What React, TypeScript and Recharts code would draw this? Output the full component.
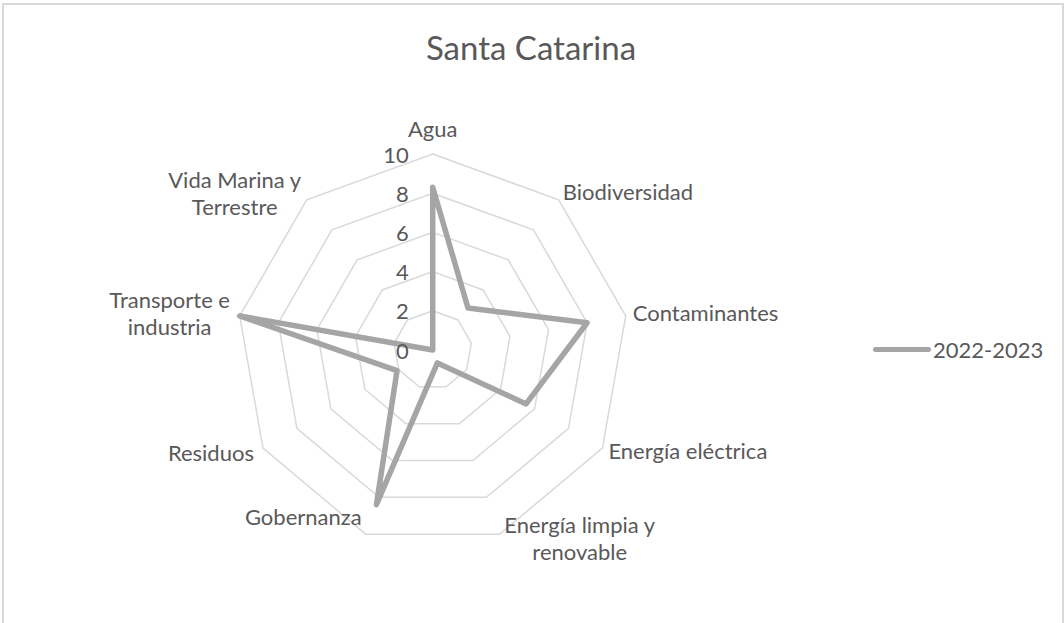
import React from 'react'
import { RadarChart, Radar, PolarGrid, PolarAngleAxis, PolarRadiusAxis, Legend } from 'recharts'

const categories = [
  'Agua',
  'Biodiversidad',
  'Contaminantes',
  'Energía eléctrica',
  'Energía limpia y renovable',
  'Gobernanza',
  'Residuos',
  'Transporte e industria',
  'Vida Marina y Terrestre',
]
const values2022 = [8.3, 2.8, 8, 5.5, 0.7, 8.4, 2.1, 10, 0]
const radiusTicks = [0, 2, 4, 6, 8, 10]
const seriesName = '2022-2023'

const data = categories.map((c, i) => ({ category: c, v: values2022[i] }))

const W = 1064
const H = 623
const CX = 432.7
const CY = 350
const R = 196
const FONT = 'Lato, "Noto Sans", sans-serif'
const TEXT = '#595959'
const LINE = '#A5A5A5'
const GRID = '#D9D9D9'

// colocación de etiquetas estilo Excel (relativa al vértice)
const labelPos: { anchor: 'start' | 'middle' | 'end'; dx: number; dy: number }[] = [
  { anchor: 'middle', dx: 0, dy: -26 },
  { anchor: 'start', dx: 4, dy: -8 },
  { anchor: 'start', dx: 7, dy: -3 },
  { anchor: 'start', dx: 6, dy: 2 },
  { anchor: 'middle', dx: 80, dy: 3.5 },
  { anchor: 'end', dx: -4, dy: -18 },
  { anchor: 'end', dx: -9, dy: 4 },
  { anchor: 'middle', dx: -70, dy: -2.5 },
  { anchor: 'middle', dx: -72, dy: -7 },
]

function wrap(label: string) {
  const w = label.split(' ')
  if (w.length < 3) return [label]
  return [w.slice(0, -1).join(' '), w[w.length - 1]]
}

function AngleTick(props: any) {
  const { payload, index } = props
  const ang = (payload.coordinate * Math.PI) / 180
  const vx = CX + R * Math.cos(ang)
  const vy = CY - R * Math.sin(ang)
  const pos = labelPos[index] || { anchor: 'middle', dx: 0, dy: 0 }
  const lines = wrap(String(payload.value))
  const gap = 27
  const y0 = vy + pos.dy - ((lines.length - 1) * gap) / 2
  return (
    <text textAnchor={pos.anchor} fill={TEXT} fontSize={22} fontFamily={FONT}>
      {lines.map((l, i) => (
        <tspan key={i} x={vx + pos.dx} y={y0 + i * gap} dominantBaseline="central">
          {l}
        </tspan>
      ))}
    </text>
  )
}

function RadiusTick(props: any) {
  const { x, y, payload } = props
  return (
    <text x={x - 24} y={y} textAnchor="end" dominantBaseline="central" fill={TEXT} fontSize={22} fontFamily={FONT}>
      {payload.value}
    </text>
  )
}

function LegendBox() {
  return (
    <div style={{ display: 'flex', alignItems: 'center', fontFamily: FONT, fontSize: 22, color: TEXT }}>
      <div style={{ width: 58, height: 5, borderRadius: 3, background: LINE, marginRight: 2 }} />
      <span>{seriesName}</span>
    </div>
  )
}

export default function App() {
  return (
    <div style={{ position: 'absolute', left: 0, top: 0, width: W, height: H, overflow: 'hidden', background: '#fff' }}>
      <div
        style={{
          position: 'absolute', left: 2, top: 3, width: W - 2, height: H + 40,
          boxSizing: 'border-box', border: `2px solid ${GRID}`,
        }}
      />
      <div
        style={{
          position: 'absolute', left: 0, top: 28, width: W, textAlign: 'center',
          paddingLeft: 0, fontFamily: FONT, fontSize: 33, color: TEXT, lineHeight: '38px',
        }}
      >
        <span style={{ position: 'relative', left: -1 }}>Santa Catarina</span>
      </div>
      <div style={{ position: 'absolute', left: 0, top: 0 }}>
        <RadarChart width={W} height={H} data={data} cx={CX} cy={CY} outerRadius={R}>
          <PolarGrid gridType="polygon" radialLines={false} stroke={GRID} strokeWidth={1.5} />
          <PolarAngleAxis dataKey="category" tick={(p: any) => <AngleTick {...p} />} axisLine={false} tickLine={false} />
          <PolarRadiusAxis
            angle={90}
            domain={[0, 10]}
            ticks={radiusTicks as any}
            tickCount={6}
            axisLine={false}
            tickLine={false}
            tick={(p: any) => <RadiusTick {...p} />}
          />
          <Radar
            name={seriesName}
            dataKey="v"
            stroke={LINE}
            strokeWidth={5.5}
            strokeLinejoin="round"
            fill="none"
            fillOpacity={0}
            dot={false}
            isAnimationActive={false}
          />
          <Legend
            layout="vertical"
            align="right"
            verticalAlign="middle"
            content={() => <LegendBox />}
            wrapperStyle={{ position: 'absolute', left: 873, top: 336, width: 180 }}
          />
        </RadarChart>
      </div>
    </div>
  )
}
